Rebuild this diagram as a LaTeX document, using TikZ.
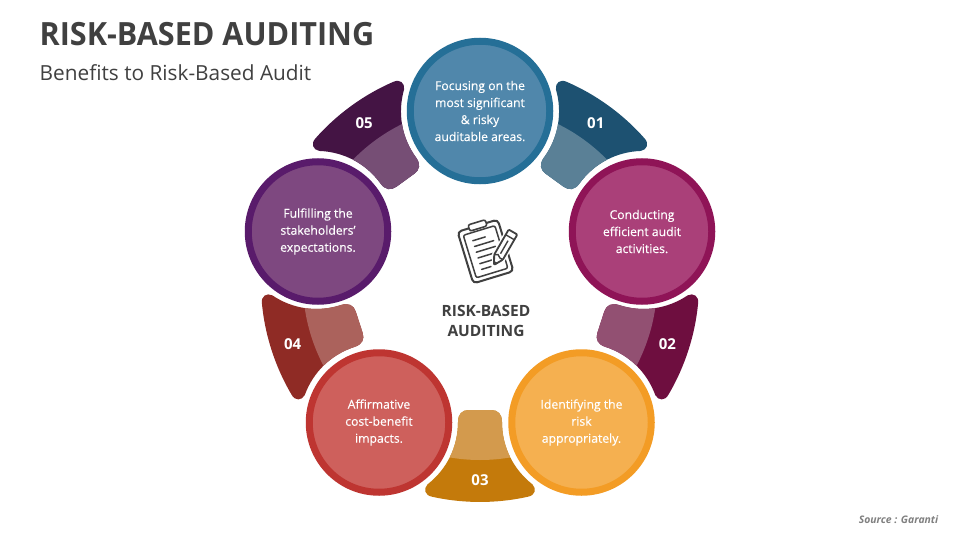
\documentclass[tikz,border=0pt]{standalone}
\usepackage{fontspec}
\setmainfont{Open Sans}
\newfontfamily\titlefont{Open Sans}[FakeStretch=0.955]
\newfontfamily\bubblefont{Open Sans}[FakeBold=0.25]
\usepackage[HTML]{xcolor}
\usepackage{tikz}
\usetikzlibrary{positioning}

\definecolor{ringA}{HTML}{256F97}
\definecolor{fillA}{HTML}{5087AB}
\definecolor{darkA}{HTML}{1D5171}
\definecolor{softA}{HTML}{5A8096}
\definecolor{ringB}{HTML}{8F1457}
\definecolor{fillB}{HTML}{AA4079}
\definecolor{darkB}{HTML}{6E0E3F}
\definecolor{softB}{HTML}{925072}
\definecolor{ringC}{HTML}{F39C25}
\definecolor{fillC}{HTML}{F5B050}
\definecolor{darkC}{HTML}{C47A0B}
\definecolor{softC}{HTML}{D39A4D}
\definecolor{ringD}{HTML}{BE3531}
\definecolor{fillD}{HTML}{CE605C}
\definecolor{darkD}{HTML}{8F2B25}
\definecolor{softD}{HTML}{AB625C}
\definecolor{ringE}{HTML}{591B6B}
\definecolor{fillE}{HTML}{7E4880}
\definecolor{darkE}{HTML}{441444}
\definecolor{softE}{HTML}{764E75}
\definecolor{inkgray}{HTML}{404040}

\tikzset{
  bubble/.style={circle,minimum size=139.5pt,inner sep=0pt,line width=7pt,align=center,
    text=white,font=\bubblefont\fontsize{12.2}{17}\selectfont},
  petalnum/.style={text=white,inner sep=0pt,font=\fontsize{15}{18}\selectfont\bfseries},
  iconline/.style={draw=inkgray,line width=1.5pt,line cap=round}
}
\def\petalpath{(-11,127) -- (11,127) .. controls (18,127) and (22,131) .. (22,139) .. controls (22,164) and (33.3,186.3) .. (52.4,201.3) .. controls (57,206) and (55,212.5) .. (48,213.7) .. controls (16.8,220.7) and (-16.8,220.7) .. (-48,213.7) .. controls (-55,212.5) and (-57,206) .. (-52.4,201.3) .. controls (-33.3,186.3) and (-22,164) .. (-22,139) .. controls (-22,131) and (-18,127) .. (-11,127) -- cycle}

\begin{document}
\begin{tikzpicture}[x=1pt,y=-1pt]
\useasboundingbox (0,0) rectangle (960,540);
\fill[white] (0,0) rectangle (960,540);

\node[anchor=west,inner sep=0pt,text=inkgray,font=\titlefont\fontsize{32}{36}\selectfont\bfseries] (title) at (39.5,34) {RISK-BASED AUDITING};
\node[anchor=west,inner sep=0pt,text=inkgray,font=\fontsize{20.8}{24}\selectfont] (subtitle) at (39.5,73) {Benefits to Risk-Based Audit};

% petals, one shape turned round the middle
\foreach \rot/\dk/\sf/\num in {144/darkA/softA/01,72/darkB/softB/02,0/darkC/softC/03,-72/darkD/softD/04,-144/darkE/softE/05}{
  \begin{scope}[shift={(480,283)},rotate=\rot]
    \begin{scope}
      \fill[\dk] \petalpath;
      \clip \petalpath;
      \fill[\sf] (0,0) circle (177);
    \end{scope}
    \node[petalnum] (num\num) at (0,197) {\num};
  \end{scope}
}

\node[bubble,draw=ringA,fill=fillA] (focus) at (480,111) {Focusing on the\\most significant\\\& risky\\auditable areas.};
\node[bubble,draw=ringB,fill=fillB] (conduct) at (642,231.5) {Conducting\\efficient audit\\activities.};
\node[bubble,draw=ringC,fill=fillC] (identify) at (581.5,422.5) {Identifying the\\risk\\appropriately.};
\node[bubble,draw=ringD,fill=fillD] (affirm) at (379,422.5) {Affirmative\\cost-benefit\\impacts.};
\node[bubble,draw=ringE,fill=fillE] (fulfil) at (318,231.5) {Fulfilling the\\stakeholders’\\expectations.};

% clipboard
\begin{scope}[shift={(485.5,251.5)},rotate=17]
  \draw[draw=inkgray,line width=2pt,rounded corners=4pt] (-21,-27) rectangle (21,27);
  \draw[draw=inkgray,line width=1.5pt,rounded corners=2pt] (-16.5,-22) rectangle (16.5,22.5);
  \draw[draw=inkgray,fill=white,line width=1.6pt,rounded corners=2pt] (-9,-30.5) rectangle (9,-24);
  \draw[iconline] (-9,-14) -- (4,-14);
  \draw[iconline] (-9,-8) -- (11,-8);
  \draw[iconline] (-9,-2) -- (11,-2);
  \draw[iconline] (-9,4) -- (7,4);
  \draw[iconline] (-9,10) -- (4,10);
  \draw[iconline] (-9,16) -- (1,16);
\end{scope}
% pencil
\begin{scope}[shift={(503.5,248.5)},rotate=-30]
  \draw[draw=white,fill=white,line width=3.5pt] (-5.5,-19) -- (5.5,-19) -- (5.5,10) -- (0,20) -- (-5.5,10) -- cycle;
  \draw[draw=inkgray,line width=1.8pt,line join=round,rounded corners=1pt] (-5,-19) -- (5,-19) -- (5,10) -- (0,19) -- (-5,10) -- cycle;
  \draw[draw=inkgray,line width=1.4pt] (-5,-13) -- (5,-13) (-5,10) -- (-1.7,8) -- (1.7,10) -- (5,10) (0,-9) -- (0,6);
  \fill[inkgray] (-1.8,15.5) -- (1.8,15.5) -- (0,19) -- cycle;
\end{scope}

\node[align=center,inner sep=0pt,text=inkgray,font=\fontsize{15.5}{20.5}\selectfont\bfseries] (hub) at (486,321) {RISK-BASED\\AUDITING};
\node[anchor=east,inner sep=0pt,text=gray,font=\fontsize{10.4}{12}\selectfont\bfseries\itshape] (source) at (938.5,520) {Source : Garanti};
\end{tikzpicture}
\end{document}
